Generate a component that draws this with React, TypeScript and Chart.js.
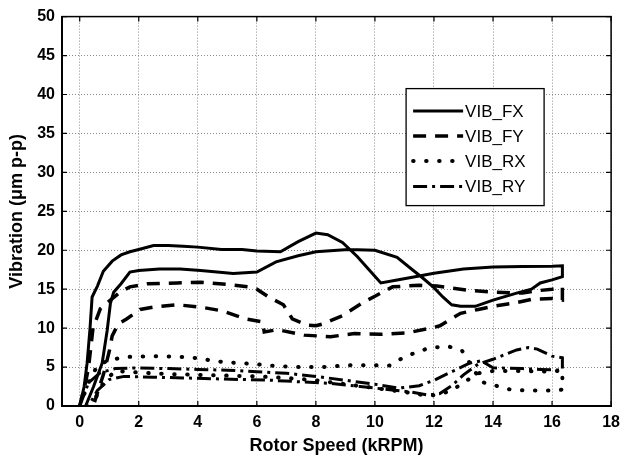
import { useEffect, useRef } from "react";
import { Chart, registerables } from "chart.js";

Chart.register(...registerables);

// ---- axis ticks ----
const X_TICKS = [0, 2, 4, 6, 8, 10, 12, 14, 16, 18];
const Y_TICKS = [0, 5, 10, 15, 20, 25, 30, 35, 40, 45, 50];

const SERIES_NAMES = ["VIB_FX", "VIB_FY", "VIB_RX", "VIB_RY"];

// ---- VIB_FX (run-up then run-down, kRPM / µm p-p) ----
const FX_SPEED = [0, 0.15, 0.25, 0.35, 0.42, 0.6, 0.8, 1.1, 1.4, 1.7, 2.0, 2.5, 3.0, 3.5, 4.0, 4.8, 5.5, 6.0, 6.8, 7.4, 8.0, 8.4, 8.9, 9.4, 9.8, 10.2, 10.8, 11.5, 12.0, 13.0, 14.0, 15.0, 16.0, 16.35,
  16.35, 16.0, 15.6, 15.3, 14.8, 14.0, 13.4, 12.9, 12.6, 12.3, 12.0, 11.6, 11.3, 10.75, 10.0, 9.1, 8.0, 7.4, 6.65, 6.0, 5.2, 4.1, 3.4, 2.7, 2.0, 1.7, 1.4, 1.15, 1.04, 0.93, 0.76, 0.47, 0.2];
const FX_VIB = [0, 2.5, 5.5, 10, 14, 15.4, 17.3, 18.6, 19.4, 19.8, 20.1, 20.6, 20.6, 20.5, 20.4, 20.1, 20.1, 19.9, 19.8, 21.1, 22.2, 22.0, 21.0, 19.2, 17.5, 15.8, 16.2, 16.7, 17.05, 17.6, 17.85, 17.9, 17.95, 18.0,
  16.6, 16.2, 15.8, 15.0, 14.5, 13.6, 12.8, 12.8, 13.0, 14.0, 15.2, 16.5, 17.4, 19.1, 20.0, 20.1, 19.8, 19.3, 18.5, 17.2, 17.0, 17.4, 17.6, 17.6, 17.4, 17.2, 15.7, 14.6, 13.2, 9.7, 5.5, 2.5, 0];

// ---- VIB_FY ----
const FY_SPEED = [0, 0.2, 0.3, 0.45, 0.7, 1.04, 1.38, 1.7, 2.3, 3.3, 4.1, 5.0, 5.7, 6.0, 6.4, 6.9, 7.2, 7.7, 8.0, 8.2, 8.9, 9.6, 10.0, 10.6, 11.5, 12.1, 13.1, 14.1, 15.0, 15.5, 16.0, 16.35,
  16.35, 16.0, 15.3, 14.7, 14.0, 13.5, 12.9, 12.2, 11.9, 11.1, 10.2, 9.3, 8.5, 7.6, 6.7, 6.25, 6.2, 5.6, 4.85, 4.1, 3.3, 2.5, 2.05, 1.6, 1.3, 1.1, 1.0, 0.8, 0.5];
const FY_VIB = [0, 3, 5, 10, 12.5, 13.6, 14.65, 15.3, 15.7, 15.8, 15.9, 15.6, 15.3, 15.0, 14.0, 13.0, 11.2, 10.4, 10.3, 10.5, 11.6, 13.3, 14.1, 15.3, 15.5, 15.4, 14.9, 14.6, 14.5, 14.8, 15.0, 15.2,
  13.6, 13.8, 13.7, 13.2, 12.8, 12.4, 11.9, 10.3, 10.0, 9.4, 9.2, 9.3, 8.9, 9.1, 9.8, 9.5, 10.8, 11.2, 12.2, 12.7, 13.0, 12.7, 12.4, 11.2, 10.5, 9.0, 7.0, 4.0, 0.5];

// ---- VIB_RX ----
const RX_SPEED = [0, 0.3, 0.6, 1.0, 1.6, 2.5, 3.5, 4.1, 4.5, 5.0, 5.9, 6.4, 7.3, 8.2, 9.25, 10.5, 10.95, 11.4, 11.8, 12.45, 12.95, 13.3, 13.6, 14.1, 14.6, 15.1, 15.5, 16.0, 16.35,
  16.35, 16.0, 15.0, 14.0, 13.5, 13.0, 12.6, 12.2, 11.8, 11.0, 10.0, 9.0, 8.0, 7.0, 6.0, 5.0, 4.0, 3.0, 2.0, 1.2, 0.8, 0.4];
const RX_VIB = [0, 3, 5.2, 5.9, 6.3, 6.4, 6.3, 6.1, 5.8, 5.6, 5.4, 5.2, 5.0, 5.0, 5.25, 5.2, 6.2, 6.9, 7.4, 7.7, 7.1, 5.0, 3.1, 2.6, 2.1, 2.0, 2.0, 2.0, 2.1,
  4.6, 4.4, 4.5, 4.5, 4.2, 3.0, 2.0, 1.5, 1.3, 1.8, 2.3, 2.8, 3.3, 3.6, 3.8, 3.9, 4.0, 4.1, 4.3, 4.5, 3.0, 0];

// ---- VIB_RY ----
const RY_SPEED = [0, 0.3, 0.7, 1.2, 2.0, 3.0, 4.0, 5.0, 6.0, 7.0, 8.0, 9.0, 10.0, 10.8, 11.5, 12.0, 12.6, 13.2, 13.6, 14.0, 15.0, 15.6, 16.35,
  16.35, 16.0, 15.5, 15.2, 14.8, 14.4, 14.0, 13.5, 13.0, 12.6, 12.2, 11.8, 11.2, 10.5, 9.5, 8.5, 7.5, 6.5, 5.5, 4.5, 3.5, 2.5, 1.5, 1.0, 0.6, 0.3];
const RY_VIB = [0, 3, 4.3, 4.8, 4.9, 4.8, 4.7, 4.6, 4.4, 4.2, 3.8, 3.3, 2.8, 2.3, 2.6, 3.3, 4.4, 5.5, 5.8, 4.9, 4.8, 4.7, 4.6,
  6.2, 6.4, 7.3, 7.5, 7.2, 6.6, 6.0, 5.4, 4.0, 2.6, 1.6, 1.4, 1.8, 2.1, 2.5, 2.9, 3.1, 3.3, 3.4, 3.5, 3.6, 3.7, 3.8, 3.4, 2.0, 0];

const zip = (xs: number[], ys: number[]) => xs.map((x, i) => ({ x, y: ys[i] }));

const FONT = "'Liberation Sans', Arial, sans-serif";

const frameLegendPlugin = {
  id: "frameLegend",
  afterDraw(chart: any) {
    const { ctx, chartArea: a } = chart;
    const xs = chart.scales.x;
    const ys = chart.scales.y;
    ctx.save();
    ctx.setLineDash([]);
    ctx.strokeStyle = "#000";
    ctx.lineWidth = 1.5;
    ctx.strokeRect(a.left, a.top, a.right - a.left, a.bottom - a.top);
    // inward tick marks
    ctx.lineWidth = 1.2;
    ctx.beginPath();
    for (const t of Y_TICKS) {
      const py = ys.getPixelForValue(t);
      ctx.moveTo(a.left, py); ctx.lineTo(a.left + 5, py);
      ctx.moveTo(a.right, py); ctx.lineTo(a.right - 5, py);
    }
    for (const t of X_TICKS) {
      const px = xs.getPixelForValue(t);
      ctx.moveTo(px, a.bottom); ctx.lineTo(px, a.bottom - 5);
      ctx.moveTo(px, a.top); ctx.lineTo(px, a.top + 5);
    }
    ctx.stroke();

    // legend box
    const bl = a.right - 205;
    const bt = a.top + 72;
    const bw = 138;
    const bh = 117;
    ctx.fillStyle = "#fff";
    ctx.fillRect(bl, bt, bw, bh);
    ctx.lineWidth = 1.3;
    ctx.strokeRect(bl, bt, bw, bh);
    const rows = [22.5, 47.5, 72.5, 98];
    chart.data.datasets.forEach((ds: any, i: number) => {
      const yy = bt + rows[i];
      ctx.save();
      ctx.strokeStyle = ds.borderColor;
      ctx.lineWidth = ds.borderWidth;
      ctx.lineCap = ds.borderCapStyle || "butt";
      ctx.setLineDash(ds.borderDash || []);
      ctx.beginPath();
      ctx.moveTo(bl + 7, yy);
      ctx.lineTo(bl + 57, yy);
      ctx.stroke();
      ctx.restore();
      ctx.fillStyle = "#000";
      ctx.font = `17px ${FONT}`;
      ctx.textAlign = "left";
      ctx.textBaseline = "middle";
      ctx.fillText(ds.label, bl + 59, yy + 1);
    });
    ctx.restore();
  },
};

export default function App() {
  const ref = useRef<HTMLCanvasElement | null>(null);

  useEffect(() => {
    document.body.style.margin = "0";
    const canvas = ref.current;
    if (!canvas) return;
    const chart = new Chart(canvas, {
      type: "line",
      data: {
        datasets: [
          {
            label: SERIES_NAMES[0],
            data: zip(FX_SPEED, FX_VIB),
            borderColor: "#000",
            borderWidth: 3,
            borderDash: [],
          },
          {
            label: SERIES_NAMES[1],
            data: zip(FY_SPEED, FY_VIB),
            borderColor: "#000",
            borderWidth: 3.5,
            borderDash: [13, 9],
          },
          {
            label: SERIES_NAMES[2],
            data: zip(RX_SPEED, RX_VIB),
            borderColor: "#000",
            borderWidth: 4,
            borderDash: [0.5, 12.5],
            borderCapStyle: "round",
          },
          {
            label: SERIES_NAMES[3],
            data: zip(RY_SPEED, RY_VIB),
            borderColor: "#000",
            borderWidth: 3,
            borderDash: [14, 5, 3, 5],
          },
        ] as any,
      },
      options: {
        animation: false,
        responsive: false,
        parsing: true as any,
        layout: { padding: { top: 16, right: 11, left: 0, bottom: 0 } },
        elements: {
          point: { radius: 0, hoverRadius: 0 },
          line: { tension: 0, fill: false },
        },
        plugins: {
          legend: { display: false },
          tooltip: { enabled: false },
        },
        scales: {
          x: {
            type: "linear",
            min: -0.6,
            max: 18,
            afterBuildTicks: (axis: any) => {
              axis.ticks = X_TICKS.map((v) => ({ value: v }));
            },
            afterFit: (scale: any) => {
              scale.height = 55;
            },
            grid: { color: "#8a8a8a", lineWidth: 1, drawTicks: false },
            border: { display: true, color: "#000", width: 2, dash: [1, 2] },
            ticks: {
              autoSkip: false,
              maxRotation: 0,
              padding: 7,
              color: "#000",
              font: { family: FONT, size: 16, weight: "bold" },
            },
            title: {
              display: true,
              text: "Rotor Speed (kRPM)",
              color: "#000",
              font: { family: FONT, size: 18, weight: "bold" },
              padding: { top: 0, bottom: 4 },
            },
          },
          y: {
            type: "linear",
            min: 0,
            max: 50,
            afterBuildTicks: (axis: any) => {
              axis.ticks = Y_TICKS.map((v) => ({ value: v }));
            },
            afterFit: (scale: any) => {
              scale.width = 62;
            },
            grid: { color: "#8a8a8a", lineWidth: 1, drawTicks: false },
            border: { display: true, color: "#000", width: 2, dash: [1, 2] },
            ticks: {
              autoSkip: false,
              padding: 7,
              color: "#000",
              font: { family: FONT, size: 16, weight: "bold" },
            },
            title: {
              display: true,
              text: "Vibration (μm p-p)",
              color: "#000",
              font: { family: FONT, size: 18, weight: "bold" },
              padding: { top: 6, bottom: 0 },
            },
          },
        },
      },
      plugins: [frameLegendPlugin],
    });
    return () => chart.destroy();
  }, []);

  return (
    <div style={{ width: 627, height: 461, background: "#fff" }}>
      <canvas ref={ref} width={627} height={461} style={{ display: "block" }} />
    </div>
  );
}
